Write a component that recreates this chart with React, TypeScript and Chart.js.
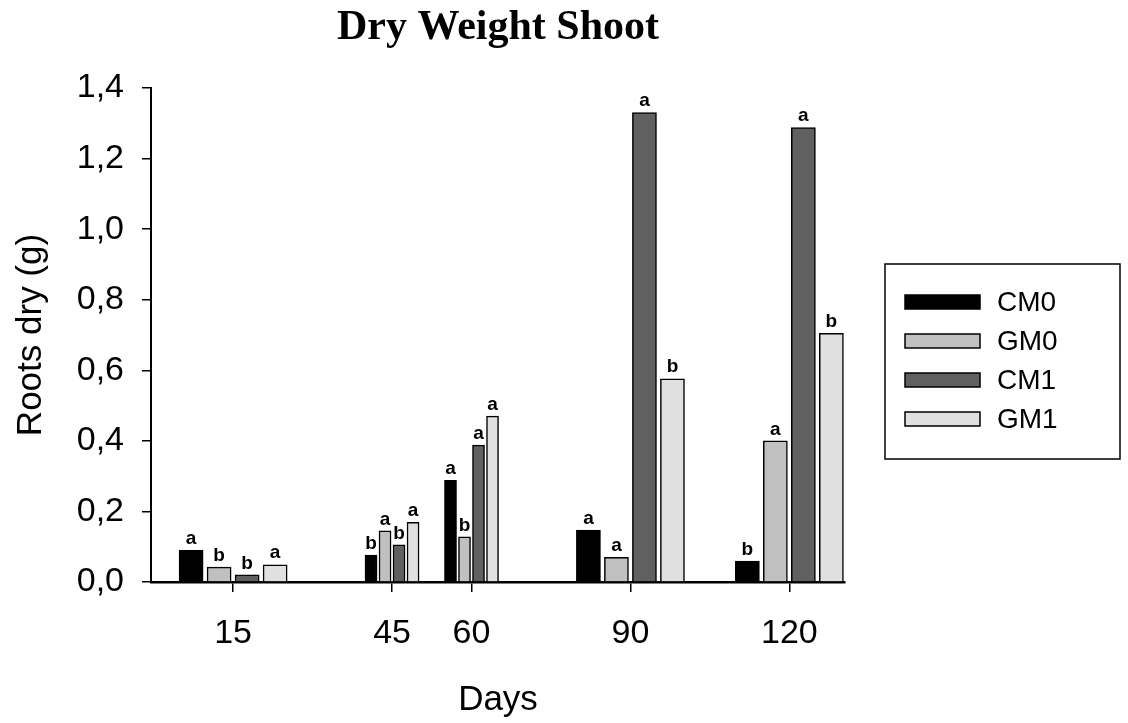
import React, { useEffect, useRef } from 'react';
import { Chart, registerables } from 'chart.js';

Chart.register(...registerables);

// ---- data ----
const days = [15, 45, 60, 90, 120];
const seriesNames = ['CM0', 'GM0', 'CM1', 'GM1'];
const cm0 = [0.09, 0.076, 0.288, 0.147, 0.059];
const gm0 = [0.042, 0.145, 0.128, 0.07, 0.4];
const cm1 = [0.02, 0.105, 0.388, 1.33, 1.288];
const gm1 = [0.049, 0.169, 0.47, 0.576, 0.705];
const cm0Letters = ['a', 'b', 'a', 'a', 'b'];
const gm0Letters = ['b', 'a', 'b', 'a', 'a'];
const cm1Letters = ['b', 'b', 'a', 'a', 'a'];
const gm1Letters = ['a', 'a', 'a', 'b', 'b'];
const yTickValues = [0, 0.2, 0.4, 0.6, 0.8, 1.0, 1.2, 1.4];
const seriesColors = ['#000000', '#c0c0c0', '#606060', '#e0e0e0'];

const seriesValues = [cm0, gm0, cm1, gm1];
const seriesLetters = [cm0Letters, gm0Letters, cm1Letters, gm1Letters];

const SANS = '"Liberation Sans", Arial, sans-serif';
const SERIF = '"Liberation Serif", "Times New Roman", serif';

const X_MIN = -0.5;
const X_MAX = 130.5;

// Each group's width follows the distance to its nearest neighbouring day
// (as the original plotting program does). Chart.js' "flex" bar sizing reads
// the neighbouring points of the data array, so invisible (null) helper points
// are placed at +/- that distance around each real point.
const nearestGap = days.map((d, i) => {
  const gaps: number[] = [];
  if (i > 0) gaps.push(d - days[i - 1]);
  if (i < days.length - 1) gaps.push(days[i + 1] - d);
  return Math.min(...gaps);
});

function buildSeriesData(s: number) {
  const pts: any[] = [];
  days.forEach((d, i) => {
    if (i > 0) {
      pts.push({ x: days[i - 1] + nearestGap[i - 1], y: null });
      pts.push({ x: d - nearestGap[i], y: null });
    }
    pts.push({ x: d, y: seriesValues[s][i], letter: seriesLetters[s][i] });
  });
  return pts;
}

function buildDatasets() {
  return seriesNames.map((name, s) => ({
    label: name,
    data: buildSeriesData(s),
    backgroundColor: seriesColors[s],
    borderColor: '#000000',
    borderWidth: 1.5,
    borderSkipped: 'start',
    barThickness: 'flex',
    categoryPercentage: 0.705,
    barPercentage: 0.86,
  }));
}

const letterPlugin = {
  id: 'letters',
  afterDatasetsDraw(chart: any) {
    const ctx = chart.ctx;
    ctx.save();
    ctx.font = `bold 19px ${SANS}`;
    ctx.fillStyle = '#000';
    ctx.textAlign = 'center';
    ctx.textBaseline = 'bottom';
    chart.data.datasets.forEach((dataset: any, di: number) => {
      const meta = chart.getDatasetMeta(di);
      meta.data.forEach((bar: any, i: number) => {
        const p = dataset.data[i];
        if (!p || p.y === null || !p.letter) return;
        ctx.fillText(p.letter, bar.x, bar.y - 2);
      });
    });
    ctx.restore();
  },
};

const boxLegendPlugin = {
  id: 'boxLegend',
  afterDraw(chart: any) {
    const ctx = chart.ctx;
    const left = chart.chartArea.right + 40;
    const width = 235;
    const height = 195;
    const top = chart.height / 2 - height / 2;
    ctx.save();
    ctx.strokeStyle = '#000';
    ctx.lineWidth = 1.5;
    ctx.strokeRect(left, top, width, height);
    ctx.font = `28px ${SANS}`;
    ctx.textBaseline = 'middle';
    ctx.textAlign = 'left';
    seriesNames.forEach((name, i) => {
      const cy = top + 38 + i * 39;
      ctx.fillStyle = seriesColors[i];
      ctx.fillRect(left + 20, cy - 7, 75, 14);
      ctx.strokeStyle = '#000';
      ctx.lineWidth = 1.5;
      ctx.strokeRect(left + 20, cy - 7, 75, 14);
      ctx.fillStyle = '#000';
      ctx.fillText(name, left + 112, cy + 1);
    });
    ctx.restore();
  },
};

export default function App() {
  const canvasRef = useRef<HTMLCanvasElement | null>(null);

  useEffect(() => {
    document.body.style.margin = '0';
    const canvas = canvasRef.current;
    if (!canvas) return;
    const chart = new Chart(canvas, {
      type: 'bar',
      data: { datasets: buildDatasets() as any },
      plugins: [letterPlugin, boxLegendPlugin],
      options: {
        animation: false,
        responsive: false,
        devicePixelRatio: 1,
        layout: { padding: { left: 0, right: 283, top: 0, bottom: 0 } },
        plugins: {
          legend: { display: false },
          tooltip: { enabled: false },
          title: {
            display: true,
            text: 'Dry Weight Shoot',
            fullSize: false,
            color: '#000',
            font: { family: SERIF, size: 42, weight: 'bold' },
            padding: { top: 3, bottom: 34.6 },
          },
        },
        scales: {
          x: {
            type: 'linear',
            position: 'bottom',
            min: X_MIN,
            max: X_MAX,
            offset: false,
            afterBuildTicks: (s: any) => {
              s.ticks = days.map((v) => ({ value: v }));
            },
            afterFit: (s: any) => {
              s.height = 723 - 582;
            },
            ticks: {
              color: '#000',
              font: { family: SANS, size: 34 },
              padding: 21,
              maxRotation: 0,
              autoSkip: false,
              callback: (v: any) => String(v),
            },
            grid: { offset: false, drawOnChartArea: false, drawTicks: true, tickLength: 10, color: '#000', lineWidth: 1.5 },
            border: { display: true, color: '#000', width: 2.5 },
            title: {
              display: true,
              text: 'Days',
              color: '#000',
              font: { family: SANS, size: 35 },
              padding: { top: 0, bottom: 2 },
            },
          },
          y: {
            type: 'linear',
            min: 0,
            max: 1.4,
            afterBuildTicks: (s: any) => {
              s.ticks = yTickValues.map((v) => ({ value: v }));
            },
            afterFit: (s: any) => {
              s.width = 151;
            },
            ticks: {
              color: '#000',
              font: { family: SANS, size: 34 },
              padding: 18,
              callback: (v: any) => Number(v).toFixed(1).replace('.', ','),
            },
            grid: { drawOnChartArea: false, drawTicks: true, tickLength: 9, color: '#000', lineWidth: 1.5 },
            border: { display: true, color: '#000', width: 2 },
            title: {
              display: true,
              text: 'Roots dry (g)',
              color: '#000',
              font: { family: SANS, size: 35 },
              padding: { top: 10, bottom: 0 },
            },
          },
        },
      } as any,
    });
    return () => chart.destroy();
  }, []);

  return (
    <div style={{ width: 1128, height: 723, background: '#fff' }}>
      <canvas ref={canvasRef} width={1128} height={723} style={{ display: 'block' }} />
    </div>
  );
}
